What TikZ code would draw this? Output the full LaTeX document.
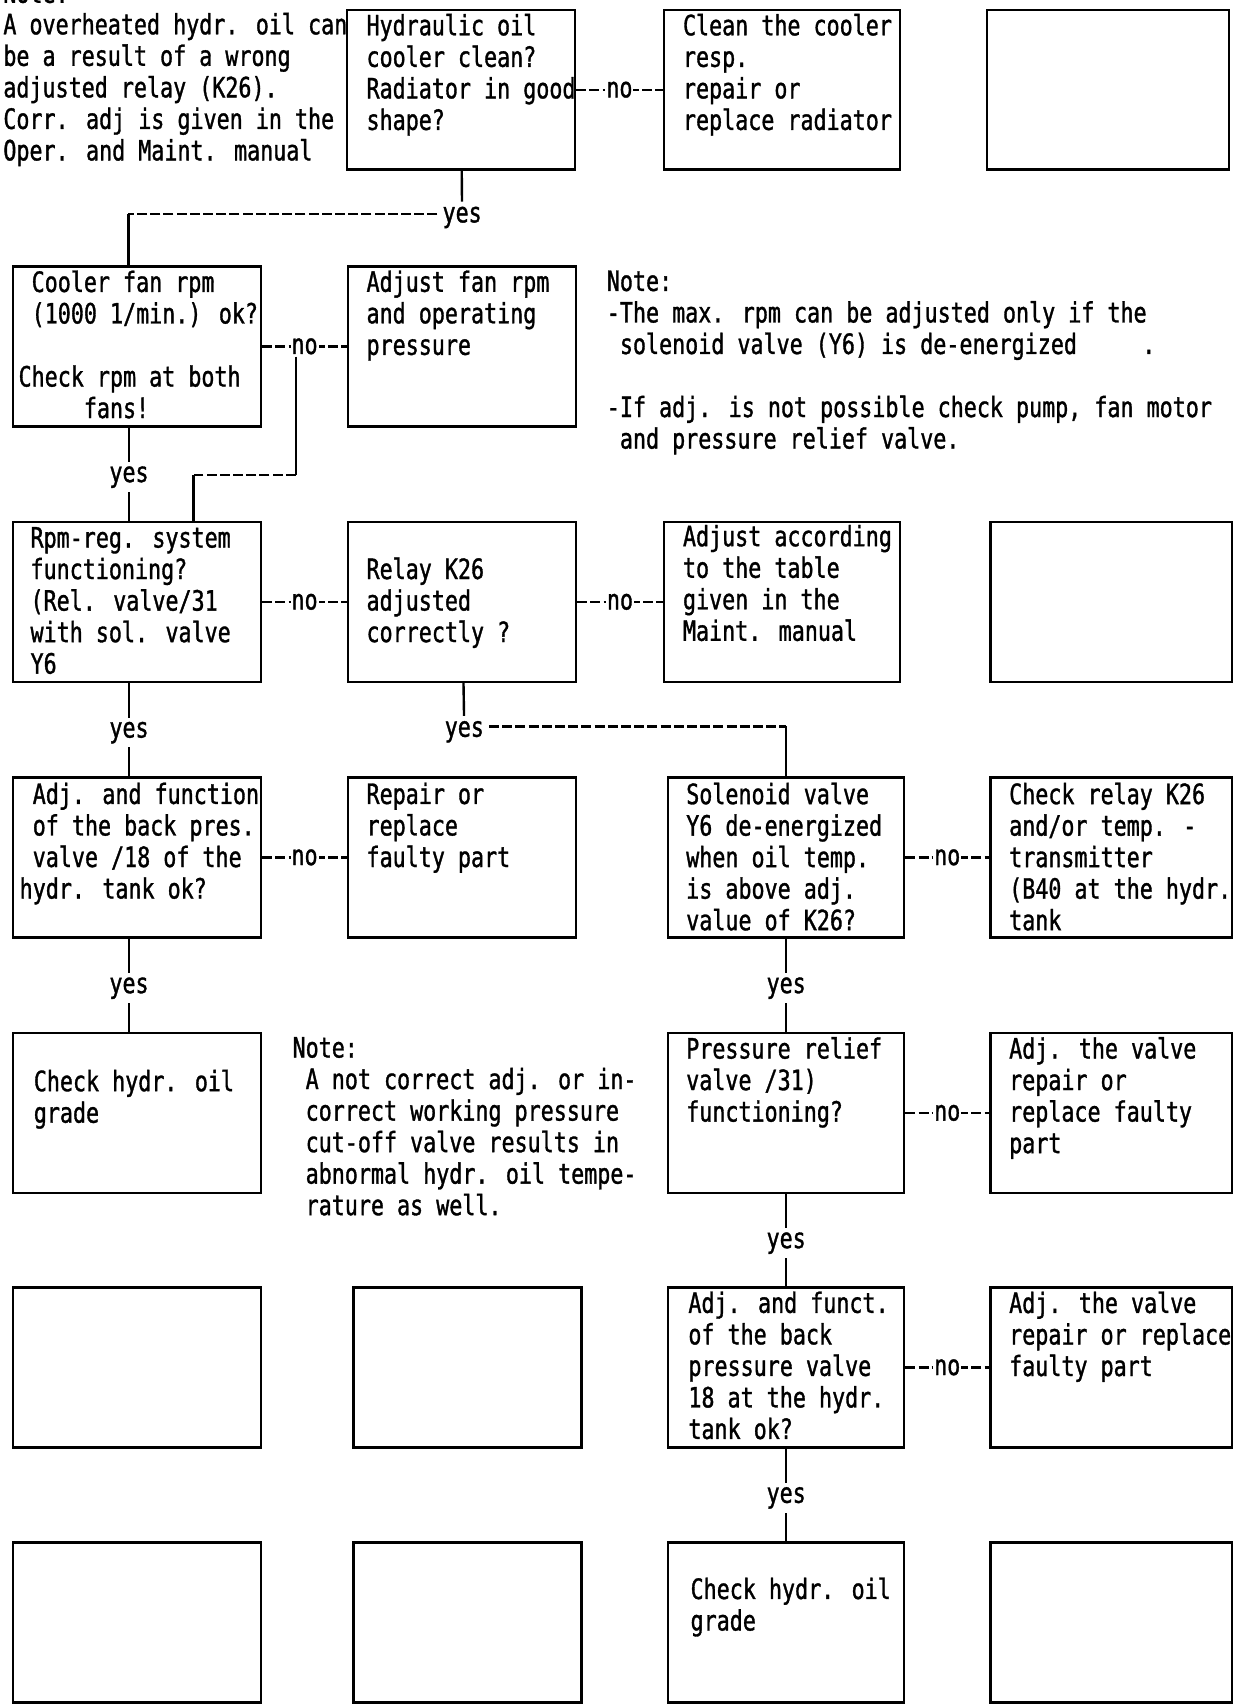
\documentclass[tikz,border=0pt]{standalone}
\usepackage{fontspec}
\newfontfamily\typer[FakeStretch=0.775,FakeBold=1.2]{DejaVu Sans Mono}
\usetikzlibrary{calc}
\newcommand\ind[1]{\hspace*{#1\fontcharwd\font`x}}

\tikzset{
  box/.style={draw, minimum height=80pt, inner sep=0pt},
  boxA/.style={box, minimum width=124pt},
  boxB/.style={box, minimum width=114pt},
  boxC/.style={box, minimum width=118pt},
  boxD/.style={box, minimum width=121pt},
  txt/.style={anchor=north west, inner sep=0pt, align=left, yshift=-2pt, execute at begin node=\strut},
  yes/.style={fill=white, inner sep=2pt, yshift=-1.5pt},
  nolbl/.style={fill=white, inner sep=0.5pt},
  typed/.style={dash pattern=on 5pt off 1.6pt},
}

\begin{document}
\begin{tikzpicture}[x=0.5439pt, y=-0.5439pt, line width=1.2pt,
    font=\typer\fontsize{14}{15.77}\selectfont]
  \useasboundingbox (0,0) rectangle (1139,1568);
  % boxes, row by row
  \node[boxB] (b1) at (424,82.5) {};
  \node[boxC] (c1) at (719,82.5) {};
  \node[boxD] (d1) at (1019,82.5) {};
  \node[boxA] (a2) at (126,318.5) {};
  \node[boxB] (b2) at (425,318.5) {};
  \node[boxA] (a3) at (126,553.5) {};
  \node[boxB] (b3) at (425,553.5) {};
  \node[boxC] (c3) at (719,553.5) {};
  \node[boxD] (d3) at (1022,553.5) {};
  \node[boxA] (a4) at (126,788.5) {};
  \node[boxB] (b4) at (425,788.5) {};
  \node[boxC] (c4) at (723,788.5) {};
  \node[boxD] (d4) at (1022,788.5) {};
  \node[boxA] (a5) at (126,1023.5) {};
  \node[boxC] (c5) at (723,1023.5) {};
  \node[boxD] (d5) at (1022,1023.5) {};
  \node[boxA] (a6) at (126,1257.5) {};
  \node[boxB] (b6) at (430,1257.5) {};
  \node[boxC] (c6) at (723,1257.5) {};
  \node[boxD] (d6) at (1022,1257.5) {};
  \node[boxA] (a7) at (126,1492) {};
  \node[boxB] (b7) at (430,1492) {};
  \node[boxC] (c7) at (723,1492) {};
  \node[boxD] (d7) at (1022,1492) {};

  % texts
  \node[txt] (t0) at (2,-21) {Note:\\A overheated hydr. oil can\\be a result of a wrong\\adjusted relay (K26).\\Corr. adj is given in the\\Oper. and Maint. manual};
  \node[txt] (tb1) at (336,8) {Hydraulic oil\\cooler clean?\\Radiator in good\\shape?};
  \node[txt] (tc1) at (627,8) {Clean the cooler\\resp.\\repair or\\replace radiator};
  \node[txt] (ta2) at (16,244) {\ind1Cooler fan rpm\\\ind1(1000 1/min.) ok?\\[15.77pt]Check rpm at both\\\ind5fans!};
  \node[txt] (tb2) at (336,244) {Adjust fan rpm\\and operating\\pressure};
  \node[txt] (tn2) at (557,244) {Note:\\-The max. rpm can be adjusted only if the\\\ind1solenoid valve (Y6) is de-energized\ind5.\\[15.77pt]-If adj. is not possible check pump, fan motor\\\ind1and pressure relief valve.};
  \node[txt] (ta3) at (27,480) {Rpm-reg. system\\functioning?\\(Rel. valve/31\\with sol. valve\\Y6};
  \node[txt] (tb3) at (336,508) {Relay K26\\adjusted\\correctly ?};
  \node[txt] (tc3) at (627,478) {Adjust according\\to the table\\given in the\\Maint. manual};
  \node[txt] (ta4) at (17,715) {\ind1Adj. and function\\\ind1of the back pres.\\\ind1valve /18 of the\\hydr. tank ok?};
  \node[txt] (tb4) at (336,715) {Repair or\\replace\\faulty part};
  \node[txt] (tc4) at (630,715) {Solenoid valve\\Y6 de-energized\\when oil temp.\\is above adj.\\value of K26?};
  \node[txt] (td4) at (927,715) {Check relay K26\\and/or temp. -\\transmitter\\(B40 at the hydr.\\tank};
  \node[txt] (ta5) at (30,979) {Check hydr. oil\\grade};
  \node[txt] (tn5) at (268,949) {Note:\\\ind1A not correct adj. or in-\\\ind1correct working pressure\\\ind1cut-off valve results in\\\ind1abnormal hydr. oil tempe-\\\ind1rature as well.};
  \node[txt] (tc5) at (630,949) {Pressure relief\\valve /31)\\functioning?};
  \node[txt] (td5) at (927,949) {Adj. the valve\\repair or\\replace faulty\\part};
  \node[txt] (tc6) at (632,1183) {Adj. and funct.\\of the back\\pressure valve\\18 at the hydr.\\tank ok?};
  \node[txt] (td6) at (927,1183) {Adj. the valve\\repair or replace\\faulty part};
  \node[txt] (tc7) at (634,1446) {Check hydr. oil\\grade};

  % no branches
  \draw[typed] (b1) -- (c1) node[midway,nolbl] (n1) {no};
  \draw[typed] (a2) -- (b2) node[midway,nolbl] (n2) {no};
  \draw[typed] (a3) -- (b3) node[midway,nolbl] (n3) {no};
  \draw[typed] (b3) -- (c3) node[midway,nolbl] (n4) {no};
  \draw[typed] (a4) -- (b4) node[midway,nolbl] (n5) {no};
  \draw[typed] (c4) -- (d4) node[midway,nolbl] (n6) {no};
  \draw[typed] (c5) -- (d5) node[midway,nolbl] (n7) {no};
  \draw[typed] (c6) -- (d6) node[midway,nolbl] (n8) {no};

  % yes branches
  \node[inner sep=2pt] (y1) at (425,200) {yes};
  \coordinate (k1) at (118,197);
  \draw (b1) -- (y1);
  \draw[typed] (y1.west |- k1) -- (k1);
  \draw (k1) -- (k1 |- a2.north);
  \draw ([xshift=-4pt]a2.south) -- ([xshift=-4pt]a3.north) node[midway,yes] (y2) {yes};
  \coordinate (k2) at (272,437);
  \coordinate (k3) at (178,437);
  \draw (n2.south -| k2) -- (k2);
  \draw[typed] (k2) -- (k3);
  \draw (k3) -- (k3 |- a3.north);
  \node[inner sep=2pt] (y3) at (427,673) {yes};
  \coordinate (k4) at (723,668);
  \draw (b3) -- (y3);
  \draw[typed] (y3.east |- k4) -- (k4);
  \draw (k4) -- (c4);
  \draw ([xshift=-4pt]a3.south) -- ([xshift=-4pt]a4.north) node[midway,yes] (y4) {yes};
  \draw ([xshift=-4pt]a4.south) -- ([xshift=-4pt]a5.north) node[midway,yes] (y5) {yes};
  \draw (c4) -- (c5) node[midway,yes] (y6) {yes};
  \draw (c5) -- (c6) node[midway,yes] (y7) {yes};
  \draw (c6) -- (c7) node[midway,yes] (y8) {yes};
\end{tikzpicture}
\end{document}
